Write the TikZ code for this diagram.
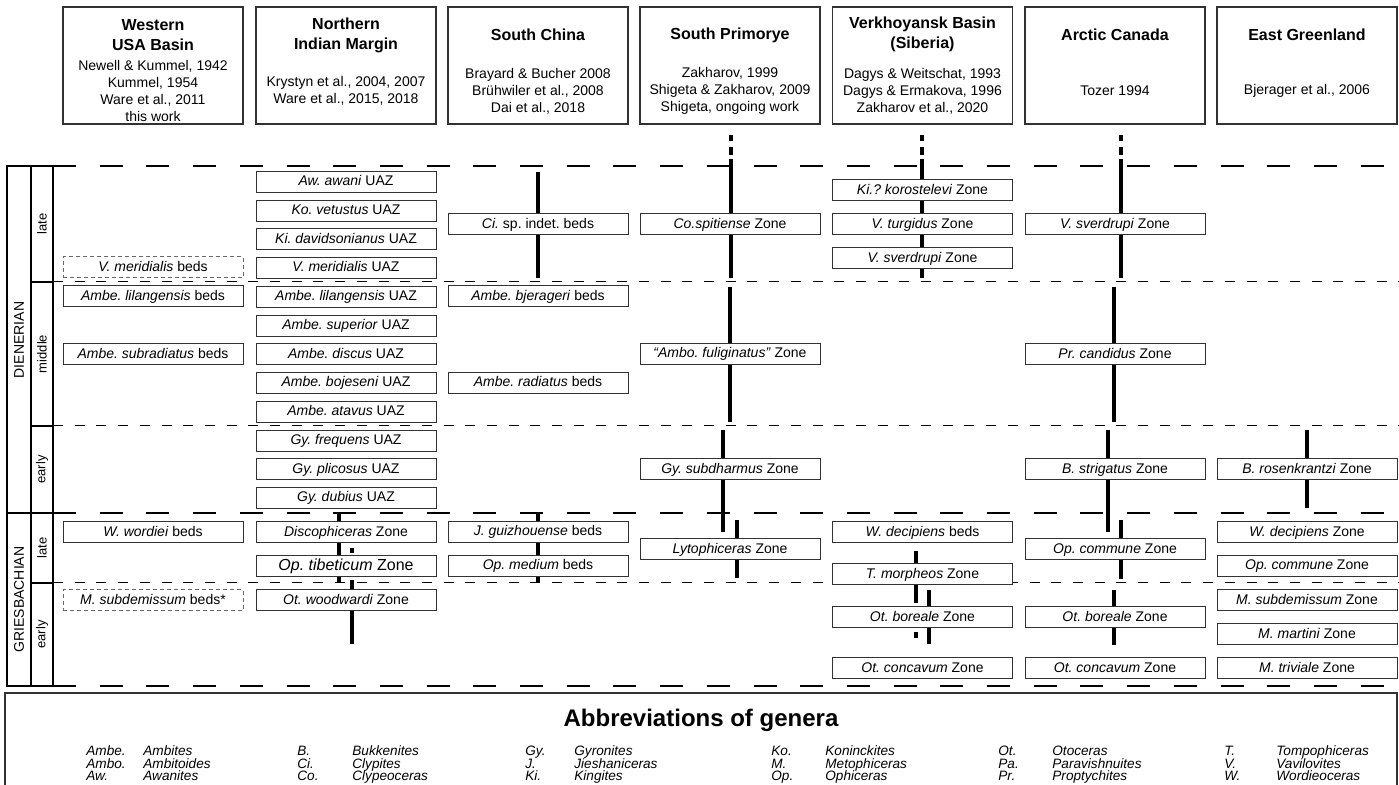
\documentclass[tikz,border=0pt]{standalone}
\usepackage{fontspec}
\setmainfont{Liberation Sans}
\frenchspacing
\definecolor{boxgray}{RGB}{50,50,50}
\definecolor{bedgray}{RGB}{105,105,105}

\tikzset{
  headbox/.style={draw=boxgray, line width=0.9pt, minimum width=90pt, minimum height=58.5pt, inner sep=0pt},
  headtitle/.style={font=\fontsize{8}{10}\selectfont\bfseries, align=center, inner sep=0pt},
  headref/.style={font=\fontsize{7}{8.5}\selectfont, align=center, inner sep=0pt},
  zonebox/.style={draw=boxgray, fill=white, line width=0.5pt, minimum width=90pt, minimum height=10.5pt,
    inner sep=0pt, text height=5.1pt, text depth=1.4pt, font=\fontsize{7}{8}\selectfont},
  bedsbox/.style={zonebox, draw=bedgray, dash pattern=on 2pt off 1.5pt},
  mainbound/.style={line width=1.35pt, dash pattern=on 11.5pt off 11.85pt},
  subbound/.style={line width=0.5pt, dash pattern=on 5pt off 5.85pt},
  axisline/.style={line width=1pt},
  rangebar/.style={line width=2.2pt},
  stagetext/.style={rotate=90, font=\fontsize{7}{8}\selectfont, inner sep=0pt},
  subtext/.style={rotate=90, font=\fontsize{6.5}{8}\selectfont, inner sep=0pt},
  abbrtext/.style={anchor=base west, font=\fontsize{6.8}{7}\selectfont\itshape, inner sep=0pt}
}

\begin{document}
\begin{tikzpicture}[x=0.5pt, y=-0.5pt]
\useasboundingbox (0,0) rectangle (1399,785);

% Column heads
\foreach \x [count=\i] in {153,346,538,730,922.5,1115,1307}
  \node[headbox] (head\i) at (\x,65.5) {};

\node[headtitle] (titleWest) at (153,35) {Western\\USA Basin};
\node[headref] (refWest) at (153,91) {Newell \& Kummel, 1942\\Kummel, 1954\\Ware et al., 2011\\this work};

\node[headtitle] (titleIndia) at (346,35) {Northern\\Indian Margin};
\node[headref] (refIndia) at (346,91) {Krystyn et al., 2004, 2007\\Ware et al., 2015, 2018};

\node[headtitle] (titleChina) at (538,35) {South China};
\node[headref] (refChina) at (538,91) {Brayard \& Bucher 2008\\Brühwiler et al., 2008\\Dai et al., 2018};

\node[headtitle] (titlePrim) at (730,35) {South Primorye};
\node[headref] (refPrim) at (730,91) {Zakharov, 1999\\Shigeta \& Zakharov, 2009\\Shigeta, ongoing work};

\node[headtitle] (titleVerk) at (922.5,34) {Verkhoyansk Basin\\(Siberia)};
\node[headref] (refVerk) at (922.5,91) {Dagys \& Weitschat, 1993\\Dagys \& Ermakova, 1996\\Zakharov et al., 2020};

\node[headtitle] (titleArct) at (1115,35) {Arctic Canada};
\node[headref] (refArct) at (1115,91) {Tozer 1994};

\node[headtitle] (titleGreen) at (1307,35) {East Greenland};
\node[headref] (refGreen) at (1307,91) {Bjerager et al., 2006};

% Stage and substage frame
\draw[axisline] (7,166) rectangle (53,686);
\draw[axisline] (31,166) -- (31,686);
\draw[axisline] (7,513) -- (53,513);
\foreach \y in {282,426,583}
  \draw[axisline] (31,\y) -- (53,\y);

\node[stagetext] (dienerian) at (19,340) {DIENERIAN};
\node[stagetext] (griesbachian) at (19,599.5) {GRIESBACHIAN};
\node[subtext] (dienLate) at (42,224) {late};
\node[subtext] (dienMiddle) at (42,354) {middle};
\node[subtext] (dienEarly) at (42,469.5) {early};
\node[subtext] (griesLate) at (42,548) {late};
\node[subtext] (griesEarly) at (42,634.5) {early};

% Boundaries
\foreach \y in {166,513,686}
  \draw[mainbound] (53,\y) -- (1390,\y);
\foreach \y in {282,426,583}
  \draw[subbound] (53,\y) -- (1399,\y);

% Range bars
\draw[rangebar] (538,172) -- (538,278);
\draw[rangebar] (538,513) -- (538,582);

\draw[rangebar] (339,514) -- (339,582);
\draw[rangebar] (352,548) -- (352,553);
\draw[rangebar] (352,580) -- (352,644);

\foreach \x in {731,922,1121} {
  \draw[rangebar] (\x,135) -- (\x,141);
  \draw[rangebar] (\x,147) -- (\x,155);
  \draw[rangebar] (\x,159) -- (\x,278);
}
\draw[rangebar] (730,287) -- (730,422);
\draw[rangebar] (723,430) -- (723,532);
\draw[rangebar] (737,520) -- (737,578);

\draw[rangebar] (916,551) -- (916,603);
\draw[rangebar] (916,632) -- (916,638);
\draw[rangebar] (929,590) -- (929,644);

\draw[rangebar] (1114,287) -- (1114,422);
\draw[rangebar] (1108,430) -- (1108,532);
\draw[rangebar] (1121,520) -- (1121,579);
\draw[rangebar] (1114,590) -- (1114,645);

\draw[rangebar] (1307,430) -- (1307,508);

% Western USA Basin
\node[bedsbox] (wMeridialis) at (153,267.5) {\textit{V. meridialis} beds};
\node[zonebox] (wLilangensis) at (153,296.5) {\textit{Ambe. lilangensis} beds};
\node[zonebox] (wSubradiatus) at (153,354.5) {\textit{Ambe. subradiatus} beds};
\node[zonebox] (wWordiei) at (153,532.5) {\textit{W. wordiei} beds};
\node[bedsbox] (wSubdemissum) at (153,600.5) {\textit{M. subdemissum} beds*};

% Northern Indian Margin
\foreach \zone [count=\i] in {Aw. awani, Ko. vetustus, Ki. davidsonianus, V. meridialis,
    Ambe. lilangensis, Ambe. superior, Ambe. discus, Ambe. bojeseni, Ambe. atavus,
    Gy. frequens, Gy. plicosus, Gy. dubius}
  \node[zonebox] (uaz\i) at (346,{182+28.75*(\i-1)}) {\textit{\zone} UAZ};
\node[zonebox] (iDiscophiceras) at (346,532.5) {\textit{Discophiceras} Zone};
\node[zonebox, text height=5.8pt, text depth=1.6pt, font=\fontsize{8}{9}\selectfont] (iTibeticum) at (346,566) {\textit{Op. tibeticum} Zone};
\node[zonebox] (iWoodwardi) at (346,600.5) {\textit{Ot. woodwardi} Zone};

% South China
\node[zonebox] (cIndet) at (538,224.5) {\textit{Ci.} sp. indet. beds};
\node[zonebox] (cBjerageri) at (538,296.5) {\textit{Ambe. bjerageri} beds};
\node[zonebox] (cRadiatus) at (538,383) {\textit{Ambe. radiatus} beds};
\node[zonebox] (cGuizhouense) at (538,532) {\textit{J. guizhouense} beds};
\node[zonebox] (cMedium) at (538,566) {\textit{Op. medium} beds};

% South Primorye
\node[zonebox] (pSpitiense) at (730,224.5) {\textit{Co.spitiense} Zone};
\node[zonebox] (pFuliginatus) at (730,354) {\textit{“Ambo. fuliginatus”} Zone};
\node[zonebox] (pSubdharmus) at (730,469.5) {\textit{Gy. subdharmus} Zone};
\node[zonebox] (pLytophiceras) at (730,549.5) {\textit{Lytophiceras} Zone};

% Verkhoyansk Basin
\node[zonebox] (vKorostelevi) at (922.5,190.5) {\textit{Ki.? korostelevi} Zone};
\node[zonebox] (vTurgidus) at (922.5,224.5) {\textit{V. turgidus} Zone};
\node[zonebox] (vSverdrupi) at (922.5,258.5) {\textit{V. sverdrupi} Zone};
\node[zonebox] (vDecipiens) at (922.5,532.5) {\textit{W. decipiens} beds};
\node[zonebox] (vMorpheos) at (922.5,574.5) {\textit{T. morpheos} Zone};
\node[zonebox] (vBoreale) at (922.5,617.5) {\textit{Ot. boreale} Zone};
\node[zonebox] (vConcavum) at (922.5,668.5) {\textit{Ot. concavum} Zone};

% Arctic Canada
\node[zonebox] (aSverdrupi) at (1115,224.5) {\textit{V. sverdrupi} Zone};
\node[zonebox] (aCandidus) at (1115,354.5) {\textit{Pr. candidus} Zone};
\node[zonebox] (aStrigatus) at (1115,469.5) {\textit{B. strigatus} Zone};
\node[zonebox] (aCommune) at (1115,549.5) {\textit{Op. commune} Zone};
\node[zonebox] (aBoreale) at (1115,617.5) {\textit{Ot. boreale} Zone};
\node[zonebox] (aConcavum) at (1115,668.5) {\textit{Ot. concavum} Zone};

% East Greenland
\node[zonebox] (gRosenkrantzi) at (1307,469.5) {\textit{B. rosenkrantzi} Zone};
\node[zonebox] (gDecipiens) at (1307,532.5) {\textit{W. decipiens} Zone};
\node[zonebox] (gCommune) at (1307,566) {\textit{Op. commune} Zone};
\node[zonebox] (gSubdemissum) at (1307,600.5) {\textit{M. subdemissum} Zone};
\node[zonebox] (gMartini) at (1307,634.5) {\textit{M. martini} Zone};
\node[zonebox] (gTriviale) at (1307,668.5) {\textit{M. triviale} Zone};

% Abbreviations
\draw[line width=1pt, boxgray] (5,786) -- (5,693) -- (1397,693) -- (1397,786);
\node[font=\fontsize{12}{14}\selectfont\bfseries, inner sep=0pt] (abbrTitle) at (701,720) {Abbreviations of genera};
\foreach \x/\gap/\entries in {
    86/57/{Ambe./Ambites,Ambo./Ambitoides,Aw./Awanites},
    297/55/{B./Bukkenites,Ci./Clypites,Co./Clypeoceras},
    525/49/{Gy./Gyronites,J./Jieshaniceras,Ki./Kingites},
    771/54/{Ko./Koninckites,M./Metophiceras,Op./Ophiceras},
    998/54/{Ot./Otoceras,Pa./Paravishnuites,Pr./Proptychites},
    1224/52/{T./Tompophiceras,V./Vavilovites,W./Wordieoceras}} {
  \foreach \ab/\gen [count=\r] in \entries {
    \node[abbrtext] (abbr\x-\r) at (\x,{743.5+12.5*\r}) {\ab};
    \node[abbrtext] (genus\x-\r) at (\x+\gap,{743.5+12.5*\r}) {\gen};
  }
}
\end{tikzpicture}
\end{document}
